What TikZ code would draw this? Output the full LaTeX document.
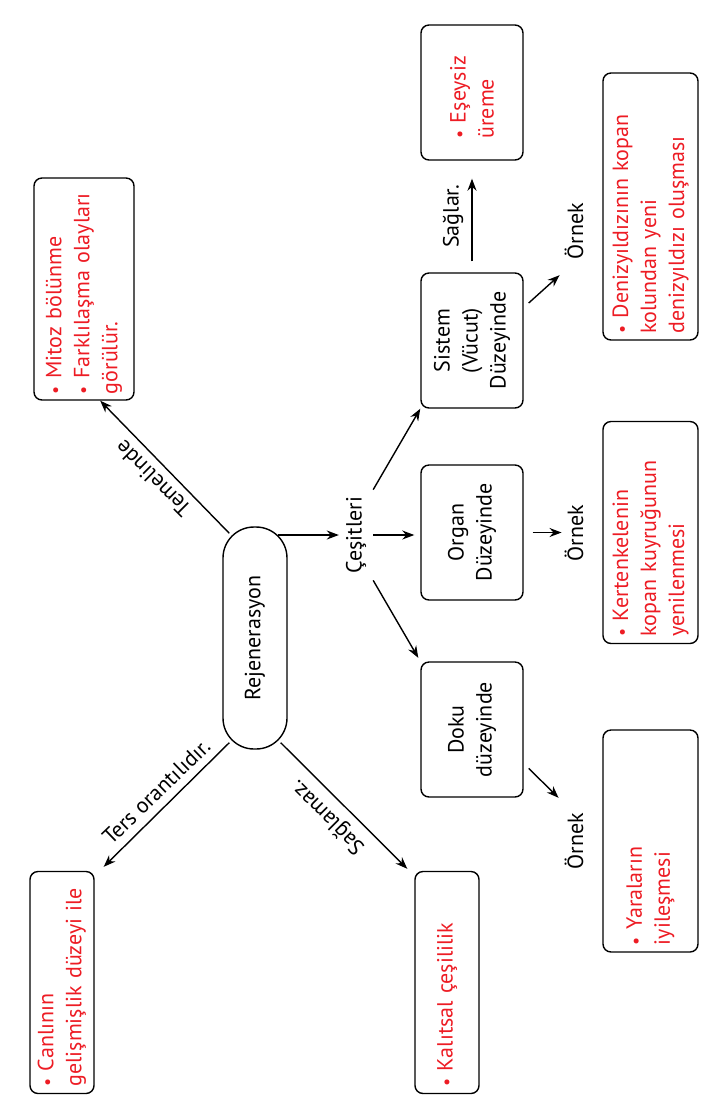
\documentclass[tikz,border=0pt]{standalone}
\usepackage{fontspec}
\setmainfont{PT Sans}
\usepackage{tikz}
\usetikzlibrary{calc}
\usetikzlibrary{arrows.meta}
\definecolor{kirmizi}{RGB}{237,28,36}
\tikzstyle{kutu}        =[draw, rounded corners=4pt, rotate=90, line width=.7pt, inner xsep=3pt, inner ysep=1pt]
\tikzstyle{kirmizikutu} =[kutu, align=left, text=kirmizi]
\tikzstyle{siyahkutu}   =[kutu, align=center, minimum width=67.5pt, minimum height=51pt]
\tikzstyle{ok}          =[-{Stealth[length=6pt,width=4.5pt]}, line width=.7pt]
\tikzstyle{etiket}      =[anchor=south, inner sep=4pt]
\newcommand{\madde}{{\small\textbullet}\ }

\begin{document}
\begin{tikzpicture}[x=.5pt,y=-.5pt,every node/.style={font=\fontsize{11}{14}\selectfont}]
\useasboundingbox (0,0) rectangle (708,1116);

%%%%%%%%%%%%%%%%%%%%%%%%
%Ölçüler (kutuların boyu ve eni)
%%%%%%%%%%%%%%%%%%%%%%%%
\def \uzun {111pt} %uzun kutuların boyu
\def \genis {47.5pt} %örnek kutularının eni
\def \ince {32pt} %ince kutuların eni

%merkez
\node[draw, rounded corners=15.5pt, rotate=90, line width=.7pt, minimum width=\uzun, minimum height=\ince] (rej) at (255,638) {Rejenerasyon};
\node[rotate=90] (ces) at (356,535) {Çeşitleri};

%kırmızı yazılı kutular
\node[kirmizikutu, minimum width=\uzun, minimum height=50pt, text width=105pt, inner xsep=3pt] (mit) at (84,289) {\madde Mitoz bölünme\\\madde Farklılaşma olayları\\görülür.};
\node[kirmizikutu, minimum width=67.5pt, minimum height=51pt, text width=46pt] (es) at (472,92.5) {\madde Eşeysiz\\üreme};
\node[kirmizikutu, minimum width=133.5pt, minimum height=\genis, text width=127pt] (den) at (650.5,206.5) {\madde Denizyıldızının kopan\\kolundan yeni\\denizyıldızı oluşması};
\node[kirmizikutu, minimum width=\uzun, minimum height=\genis, text width=104pt] (ker) at (650.5,532.5) {\madde Kertenkelenin\\kopan kuyruğunun\\yenilenmesi};
\node[kirmizikutu, minimum width=\uzun, minimum height=\genis, text width=104pt] (yar) at (650.5,841) {\madde Yaraların\\iyileşmesi};
\node[kirmizikutu, minimum width=\uzun, minimum height=\ince, text width=104pt] (can) at (62,982.5) {\madde Canlının\\gelişmişlik düzeyi ile};
\node[kirmizikutu, minimum width=\uzun, minimum height=\ince, text width=104pt] (kal) at (447,982.5) {\madde Kalıtsal çeşililik};

%düzeyler
\node[siyahkutu] (sis) at (472,340.5) {Sistem\\(Vücut)\\Düzeyinde};
\node[siyahkutu] (org) at (472,532.5) {Organ\\Düzeyinde};
\node[siyahkutu] (dok) at (472,729.5) {Doku\\düzeyinde};

%örnekler
\node[rotate=90] (orn1) at (574,231) {Örnek};
\node[rotate=90] (orn2) at (574,533) {Örnek};
\node[rotate=90] (orn3) at (574,841) {Örnek};

%%%%%%%%%%%%%%%%%%%%%%%%
%Oklar
%%%%%%%%%%%%%%%%%%%%%%%%
\draw[ok] ($(rej.south |- ces.north)+(-10,0)$) -- (ces.north);
\draw[ok] (ces.south east) -- (sis.north west);
\draw[ok, shorten >=3pt] (ces.south) -- (ces.south -| org.north);
\draw[ok, shorten >=2pt] (ces.south west) -- (dok.north east);

\draw[ok, shorten <=5.5pt, shorten >=9pt] (sis.east) -- (es.west) node[midway, rotate=90, etiket] {Sağlar.};
\draw[ok] ($(sis.south)!.55!(sis.south east)+(5,0)$) -- ($(orn1.north west)+(2,9)$);
\draw[ok, shorten <=4.5pt, shorten >=-2pt] (org.south) -- (org.south -| orn2.north);
\draw[ok] ($(dok.south)!.57!(dok.south west)+(5,0)$) -- ($(orn3.north east)+(1,-8)$);

\draw[ok] ($(rej.north east)+(7,7)$) -- ($(mit.west)!.32!(mit.south west)$) node[pos=.5, rotate=135, etiket] {Temelinde};
\draw[ok] ($(rej.north west)+(7,-7)$) -- ($(can.south east)+(9,-4)$) node[pos=.49, rotate=44, etiket] {Ters orantılıdır.};
\draw[ok] ($(rej.south west)+(-7,-7)$) -- ($(kal.north east)+(-7,-2)$) node[pos=.48, rotate=135, etiket] {Sağlamaz.};

\end{tikzpicture}
\end{document}
